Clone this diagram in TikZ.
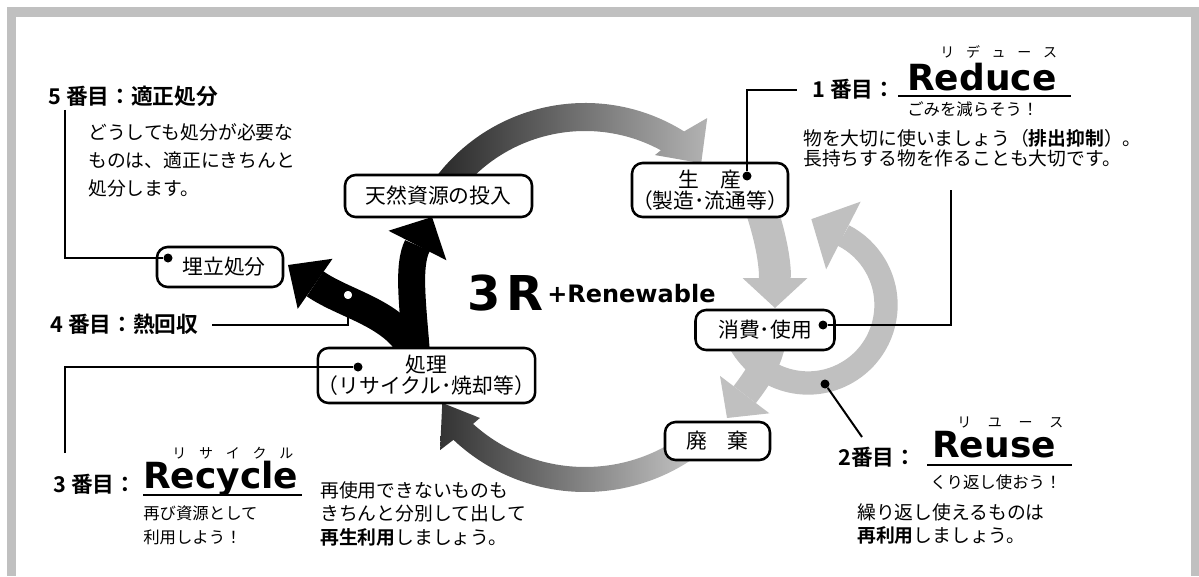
\documentclass[tikz,border=0pt]{standalone}
\usepackage{fontspec}
\setmainfont{Noto Sans CJK JP}[BoldFont={Noto Sans CJK JP Bold}]
\newfontfamily\lat{DejaVu Sans}
\usetikzlibrary{arrows.meta}
\definecolor{framegray}{HTML}{C0C0C0}
\definecolor{lgray}{HTML}{C0C0C0}
\begin{document}
\begin{tikzpicture}[x=0.75pt,y=0.75pt,
  rbox/.style={draw=black, line width=1.9pt, rounded corners=8pt, fill=white, inner sep=0pt, align=center, font=\fontsize{15.6}{15.5}\selectfont},
  blackdot/.style={circle, fill=black, inner sep=0pt, minimum size=6.75pt},
  whitedot/.style={circle, draw=black, fill=white, line width=1pt, inner sep=0pt, minimum size=7.5pt},
  conn/.style={line width=1.5pt, draw=black},
  txt/.style={anchor=base west, inner sep=0pt, font=\fontsize{14.1}{16}\selectfont},
  ttl/.style={anchor=base west, inner sep=0pt, font=\fontsize{16.3}{18}\selectfont\bfseries},
  subt/.style={anchor=base west, inner sep=0pt, font=\fontsize{12.3}{14}\selectfont},
  ruby/.style={anchor=base west, inner sep=0pt, font=\fontsize{10.5}{12}\selectfont},
  bigword/.style={anchor=base west, inner sep=0pt, font=\lat\bfseries\fontsize{27}{30}\selectfont},
  gband/.style={draw=lgray},
  kband/.style={draw=black}
]
\useasboundingbox (0,0) rectangle (1199,576);
% frame
\fill[framegray] (7,0) rectangle (16,569);
\fill[framegray] (7,559) rectangle (1199,569);
\fill[framegray] (1191,0) rectangle (1199,569);

% shaded arc: natural resources -> production
\begin{scope}[shift={(585,286)}]
\shade[left color=black!85, right color=black!30]
  (145:187) arc[start angle=145,end angle=58,radius=187]
  -- (54.6:211) -- (47.5:172) -- (62.6:152) -- (61.5:159)
  arc[start angle=61.5,end angle=145,radius=159] -- cycle;
\end{scope}
% shaded arc: disposal -> processing
\begin{scope}[shift={(585,276)}]
\shade[left color=black!80, right color=black!22]
  (-53:192) arc[start angle=-53,end angle=-133.25,radius=192]
  -- (-134:208.6) -- (-144.2:176) -- (-131.7:158) -- (-132.1:167)
  arc[start angle=-132.1,end angle=-53,radius=167] -- cycle;
\end{scope}

% gray arrows
\coordinate (g1s) at (760,371);
\coordinate (g1e) at (775,268);
\draw[gband, line width=24pt, -{Triangle[width=48.75pt,length=22.5pt,line width=0pt]}]
  (g1s) .. controls (770,341) and (775,316) .. (g1e);
\coordinate (g2s) at (772,236);
\coordinate (g2e) at (727,158);
\draw[gband, line width=21pt, -{Triangle[width=46.5pt,length=22pt,line width=0pt]}]
  (g2s) .. controls (768,211) and (752,191) .. (g2e);
\coordinate (lc) at (808,271);
\draw[gband, line width=17.5pt, -{Triangle[width=57pt,length=27pt,line width=0pt]}]
  ([shift={(lc)}]-150:78) arc[start angle=-150,end angle=63,radius=78] -- ++(153:36);

% black arrows
\coordinate (k0) at (417,216);
\coordinate (k1) at (432,359);
\coordinate (k2) at (288,311);
\draw[kband, line width=20.25pt, -{Triangle[width=48.75pt,length=24pt,line width=0pt]}]
  (k0) .. controls (413,270) and (407,310) .. (k1);
\draw[kband, line width=22.5pt, -{Triangle[width=45.75pt,length=24.75pt,line width=0pt]}]
  (k0) .. controls (402,262) and (347,270) .. (k2);

% boxes
\node[rbox, minimum width=140.25pt, minimum height=31.5pt] (nat) at (438.5,380) {天然資源の投入};
\node[rbox, minimum width=117pt, minimum height=40.5pt] (prod) at (710,386) {生　産\\（製造･流通等）};
\node[rbox, minimum width=104.25pt, minimum height=30pt] (cons) at (765,246) {消費･使用};
\node[rbox, minimum width=78.75pt, minimum height=28.5pt] (disp) at (717.5,135) {廃　棄};
\node[rbox, minimum width=147.75pt, minimum height=41.25pt] (proc) at (426.5,200.5) {処理\\（リサイクル･焼却等）};
\node[rbox, minimum width=94.5pt, minimum height=30pt] (land) at (220,309) {\hspace{6pt}埋立処分};

% dots
\node[blackdot] (proddot) at (747,400) {};
\node[blackdot] (consdot) at (823,251) {};
\node[blackdot] (procdot) at (358,209) {};
\node[blackdot] (landdot) at (168,318) {};
\node[blackdot] (reusedot) at (825,192) {};
\node[whitedot] (heatdot) at (348,281) {};

% connectors
\coordinate (c5) at (65,466);
\coordinate (c4) at (212,251);
\coordinate (c3) at (65,123);
\coordinate (c1) at (797,486);
\coordinate (c1b) at (951,386);
\coordinate (c2) at (862,139);
\draw[conn] (c5) |- (landdot);
\draw[conn] (c4) -| (heatdot);
\draw[conn] (c3) |- (procdot);
\draw[conn] (proddot) |- (c1);
\draw[conn] (consdot) -| (c1b);
\draw[conn] (reusedot) -- (c2);

% center title
\node[anchor=base west, inner sep=0pt, font=\lat\bfseries\fontsize{36}{40}\selectfont] (three) at (467,266) {3\kern4pt R};
\node[anchor=base west, inner sep=0pt, font=\lat\bfseries\fontsize{18}{20}\selectfont] (renew) at (547,274) {+Renewable};

% 5
\node[ttl] (t5) at (48,471.4) {5 番目：適正処分};
\node[txt] (t5a) at (88,436) {どうしても処分が必要な};
\node[txt] (t5b) at (88,408) {ものは、適正にきちんと};
\node[txt] (t5c) at (88,381) {処分します。};
% 4
\node[ttl] (t4) at (50,243.4) {4 番目：熱回収};
% 3
\node[ttl] (t3) at (53,83.4) {3 番目：};
\node[bigword] (recycle) at (143,88) {Recycle};
\draw[line width=1.5pt] (143,81) -- (302,81);
\node[ruby] (r3) at (172,117.7) {リ\hspace{9.6pt}サ\hspace{9.6pt}イ\hspace{9.6pt}ク\hspace{9.6pt}ル};
\node[subt] (t3s1) at (143,56.6) {再び資源として};
\node[subt] (t3s2) at (143,32.6) {利用しよう！};
\node[txt] (t3a) at (320,79) {再使用できないものも};
\node[txt] (t3b) at (320,56) {きちんと分別して出して};
\node[txt] (t3c) at (320,32) {\textbf{再生利用}しましょう。};
% 1
\node[ttl] (t1) at (812,478.4) {1 番目：};
\node[bigword] (reduce) at (907,485) {Reduce};
\draw[line width=1.5pt] (898,480) -- (1071,480);
\node[ruby] (r1) at (940,518.7) {リ\hspace{8.8pt}デ\hspace{8.8pt}ュ\hspace{8.8pt}ー\hspace{8.8pt}ス};
\node[subt] (t1s) at (907,460) {ごみを減らそう！};
\node[txt] (t1a) at (803,431) {物を大切に使いましょう（\textbf{排出抑制}）。};
\node[txt] (t1b) at (803,411) {長持ちする物を作ることも大切です。};
% 2
\node[ttl] (t2) at (838,110.4) {2番目：};
\node[bigword] (reuse) at (932,119) {Reuse};
\draw[line width=1.5pt] (927,111) -- (1072,111);
\node[ruby] (r2) at (957,148.7) {リ\hspace{12.5pt}ユ\hspace{12.5pt}ー\hspace{12.5pt}ス};
\node[subt] (t2s) at (930,88) {くり返し使おう！};
\node[txt] (t2a) at (857,57) {繰り返し使えるものは};
\node[txt] (t2b) at (857,34) {\textbf{再利用}しましょう。};
\end{tikzpicture}
\end{document}
